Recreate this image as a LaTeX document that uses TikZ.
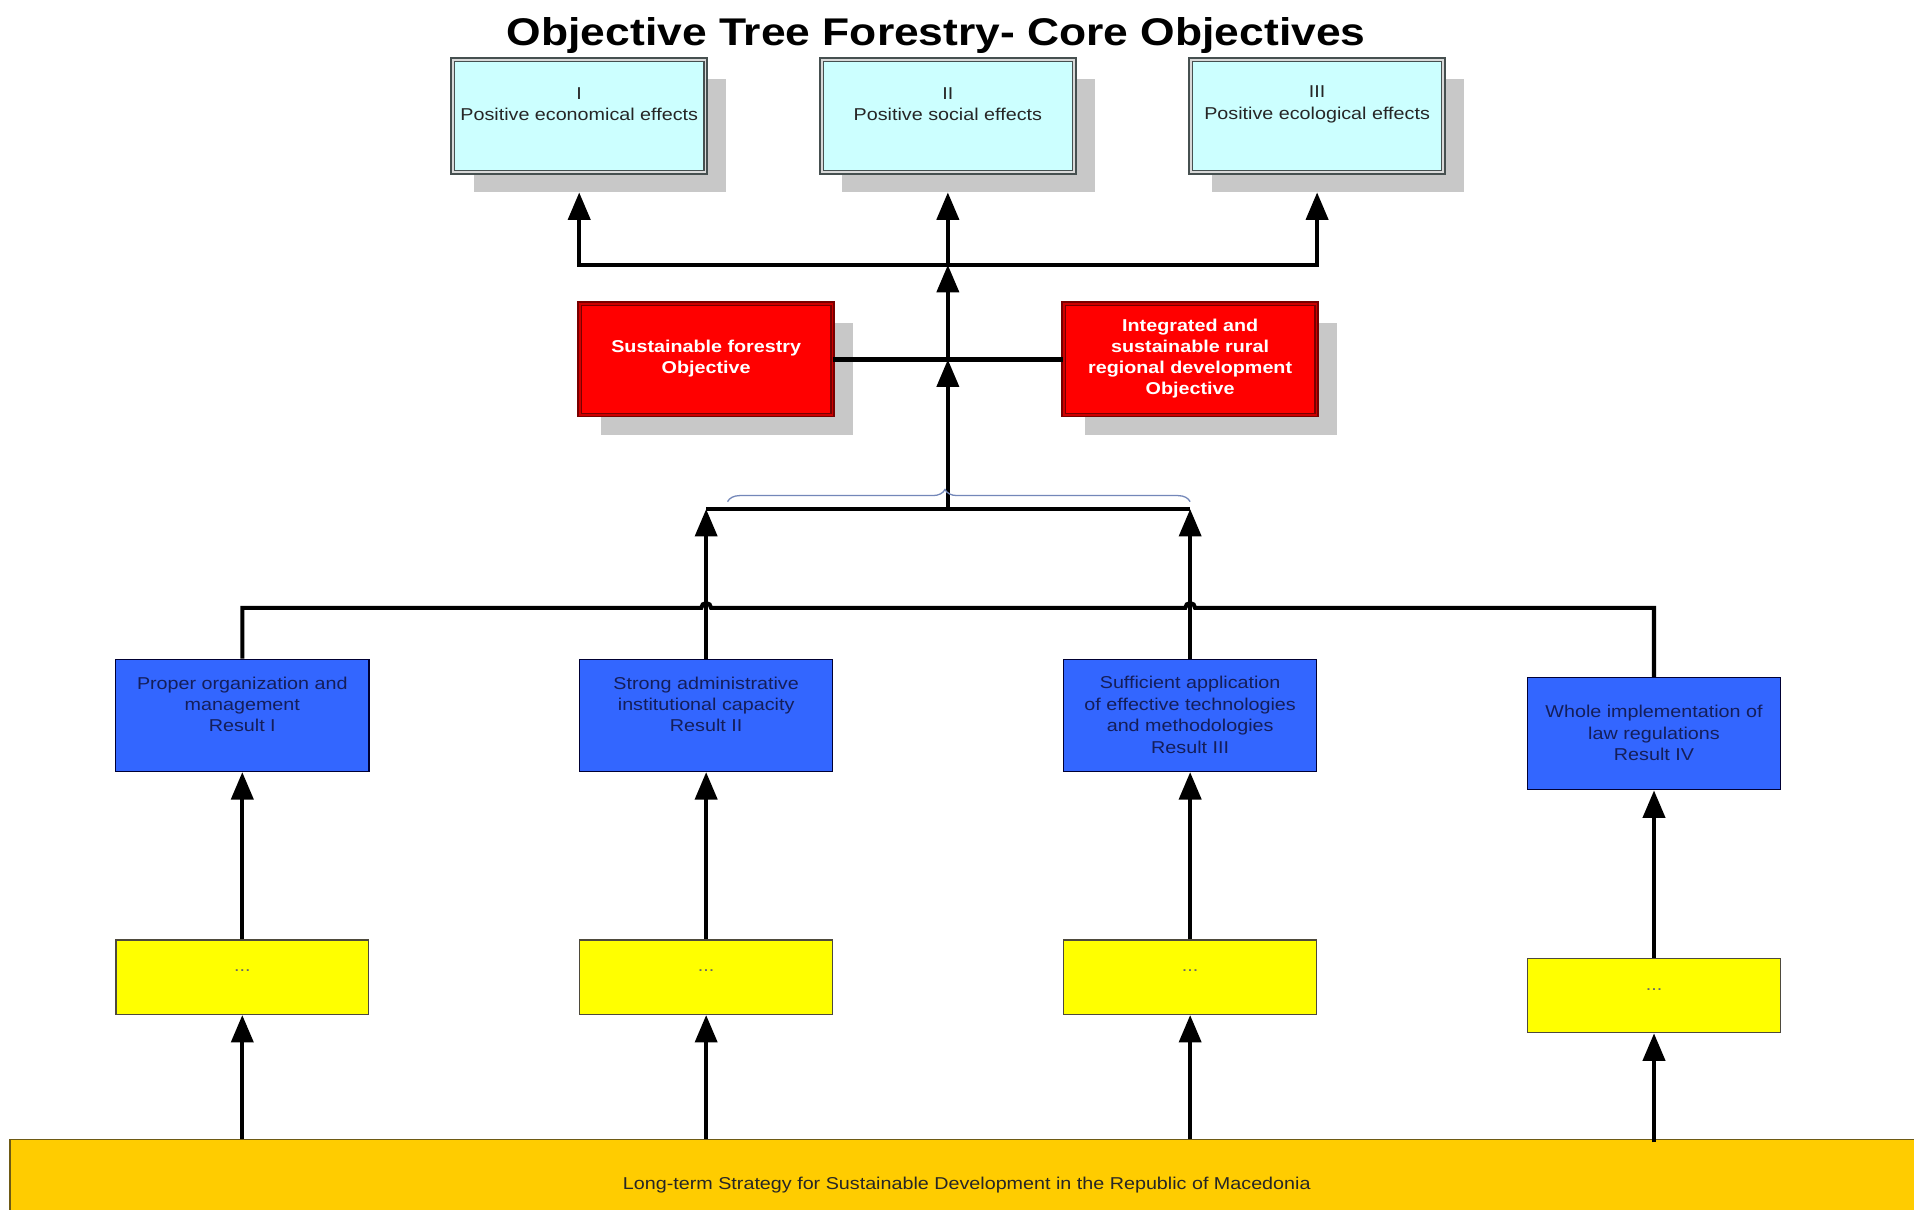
\documentclass[tikz,border=0pt]{standalone}
\usepackage{fontspec}
\setmainfont{Liberation Sans}[FakeStretch=1.15]
\usetikzlibrary{arrows.meta,shadows,decorations.pathreplacing}
\definecolor{cyanfill}{RGB}{204,255,255}
\definecolor{redfill}{RGB}{255,0,0}
\definecolor{redline}{RGB}{120,0,0}
\definecolor{redgap}{RGB}{205,0,0}
\definecolor{bluefill}{RGB}{51,102,255}
\definecolor{bluetext}{RGB}{20,30,90}
\definecolor{yellowfill}{RGB}{255,255,0}
\definecolor{barfill}{RGB}{255,204,0}
\definecolor{barline}{RGB}{110,90,20}
\definecolor{shadowgray}{RGB}{200,200,200}
\definecolor{bracecol}{RGB}{115,135,185}
\definecolor{topline}{RGB}{70,80,80}
\tikzset{
  bodyfont/.style={font=\fontsize{8}{10}\selectfont},
  conn/.style={line width=1.9pt, black, line join=miter},
  arr/.style={conn, -{Triangle[length=0.45cm,width=0.36cm]}},
  shadowed/.style={drop shadow={shadow xshift=0.34cm, shadow yshift=-0.32cm, fill=shadowgray, opacity=1}},
  topbox/.style={shadowed, draw=topline, double=white!85!black, double distance=0.9pt, line width=0.7pt,
    fill=cyanfill, minimum width=4.14cm, minimum height=1.84cm, inner sep=0pt},
  redbox/.style={shadowed, draw=redline, double=redgap, double distance=0.9pt, line width=0.7pt,
    fill=redfill, minimum width=4.14cm, minimum height=1.82cm, inner sep=0pt},
  bluebox/.style={draw=black!80!blue, line width=0.6pt, fill=bluefill,
    minimum width=4.15cm, minimum height=1.84cm, inner sep=0pt},
  yellowbox/.style={draw=black!80!yellow, line width=0.6pt, fill=yellowfill,
    minimum width=4.14cm, minimum height=1.22cm, inner sep=0pt},
  txt/.style={bodyfont, align=center, inner sep=0pt},
  toptxt/.style={txt, text=black!85},
  redtxt/.style={txt, text=white, font=\fontsize{8}{9.8}\selectfont\bfseries},
  bluetxt/.style={txt, text=bluetext},
  dotstxt/.style={txt, text=black!60},
}
\begin{document}
\begin{tikzpicture}[x=0.02cm,y=0.02cm]
\useasboundingbox (0,0) rectangle (1568,-991.2);
\clip (0,0) rectangle (1568,-991.2);
\fill[white] (0,0) rectangle (1568,-991.2);

% title
\node[anchor=base, inner sep=0pt, font=\fontsize{18}{20}\selectfont\bfseries] (title) at (767,-37) {Objective Tree Forestry- Core Objectives};

% top objectives
\node[topbox] (e1) at (474.5,-95) {};
\node[topbox] (e2) at (776.5,-95) {};
\node[topbox] (e3) at (1079,-95) {};
\node[toptxt] (e1t) at (474.5,-85.5) {I\\Positive economical effects};
\node[toptxt] (e2t) at (776.5,-85.5) {II\\Positive social effects};
\node[toptxt] (e3t) at (1079,-85.5) {III\\Positive ecological effects};

% red objectives
\node[redbox] (s1) at (578.5,-294.5) {};
\node[redbox] (s2) at (975,-294.5) {};
\node[redtxt] (s1t) at (578.5,-294) {Sustainable forestry\\Objective};
\node[redtxt] (s2t) at (975,-294) {Integrated and\\sustainable rural\\regional development\\Objective};

% results
\node[bluebox] (r1) at (198.5,-586) {};
\node[bluebox] (r2) at (578.5,-586) {};
\node[bluebox] (r3) at (975,-586) {};
\node[bluebox] (r4) at (1355,-601) {};
\node[bluetxt] (r1t) at (198.5,-577) {Proper organization and\\management\\Result I};
\node[bluetxt] (r2t) at (578.5,-577) {Strong administrative\\institutional capacity\\Result II};
\node[bluetxt] (r3t) at (975,-585.5) {Sufficient application\\of effective technologies\\and methodologies\\Result III};
\node[bluetxt] (r4t) at (1355,-600.5) {Whole implementation of\\law regulations\\Result IV};

% activities
\node[yellowbox] (y1) at (198.5,-800.5) {};
\node[yellowbox] (y2) at (578.5,-800.5) {};
\node[yellowbox] (y3) at (975,-800.5) {};
\node[yellowbox] (y4) at (1355,-815.5) {};
\node[dotstxt] (y1t) at (198.5,-795.5) {...};
\node[dotstxt] (y2t) at (578.5,-795.5) {...};
\node[dotstxt] (y3t) at (975,-795.5) {...};
\node[dotstxt] (y4t) at (1355,-810.5) {...};

% strategy bar
\node[draw=barline, line width=0.8pt, fill=barfill, minimum width=31.36cm, minimum height=1.48cm,
  inner sep=0pt, bodyfont, text=black!85] (bar) at (792,-970.5) {Long-term Strategy for Sustainable Development in the Republic of Macedonia};

% coordinates
\coordinate (t1) at (474.5,-217);
\coordinate (t2) at (776.5,-217);
\coordinate (t3) at (1079,-217);
\coordinate (m1) at (t2 |- s1.east);
\coordinate (b0) at (776.5,-417);
\coordinate (b2) at (578.5,-417);
\coordinate (b3) at (975,-417);
\coordinate (h1) at (198.5,-498);
\coordinate (h2) at (578.5,-498);
\coordinate (h3) at (975,-498);
\coordinate (h4) at (1355,-498);
\coordinate (brL) at (596,-411);
\coordinate (brR) at (975,-411);

% top level connectors
\draw[arr] (t3) -- (t1) -- ([yshift=-0.32cm]e1.south);
\draw[arr] (t1) -- (t3) -- ([yshift=-0.32cm]e3.south);
\draw[arr] (t2) -- ([yshift=-0.32cm]e2.south);
\draw[conn] (s1.east) -- (s2.west);
\draw[arr] (m1) -- (t2);
\draw[arr] (b0) -- (m1);
\draw[conn] (b2) -- (b3);

% brace
\draw[bracecol, line width=0.6pt, decorate, decoration={brace, amplitude=0.2cm, aspect=0.47}] (brL) -- (brR);

% results connectors
\draw[arr] (r2.north) -- (b2);
\draw[arr] (r3.north) -- (b3);
\draw[conn] (r1.north) -- (h1) -- ([xshift=-0.08cm]h2) arc[start angle=180, end angle=0, radius=0.08cm]
  -- ([xshift=-0.08cm]h3) arc[start angle=180, end angle=0, radius=0.08cm] -- (h4) -- (r4.north);

% activity to result
\draw[arr] (y1.north) -- (r1.south);
\draw[arr] (y2.north) -- (r2.south);
\draw[arr] (y3.north) -- (r3.south);
\draw[arr] (y4.north) -- (r4.south);

% strategy to activity
\draw[arr] (y1.south |- bar.north) -- (y1.south);
\draw[arr] (y2.south |- bar.north) -- (y2.south);
\draw[arr] (y3.south |- bar.north) -- (y3.south);
\draw[arr] ([yshift=-0.06cm]y4.south |- bar.north) -- (y4.south);
\end{tikzpicture}
\end{document}
